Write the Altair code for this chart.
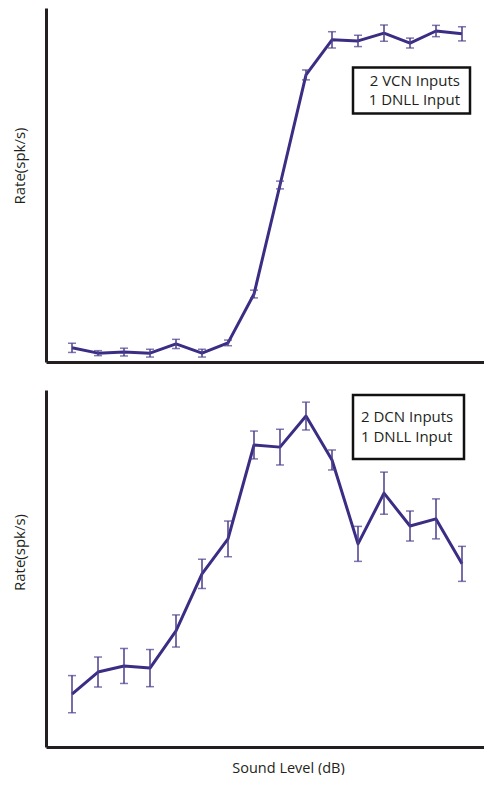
import altair as alt
import pandas as pd

# ---- data (arbitrary rate units 0-100) ----
sound_level = [0, 5, 10, 15, 20, 25, 30, 35, 40, 45, 50, 55, 60, 65, 70, 75]

rate_vcn = [4.0, 2.5, 2.8, 2.5, 5.1, 2.5, 5.4, 19.2, 50.0, 81.1, 91.0, 90.7, 92.9, 90.1, 93.5, 92.7]
err_vcn = [1.3, 0.7, 1.1, 1.1, 1.3, 1.1, 0.8, 1.1, 1.1, 1.4, 2.3, 1.6, 2.3, 1.4, 1.6, 2.0]

rate_dcn = [14.8, 21.0, 22.7, 22.1, 32.5, 48.5, 58.3, 84.6, 84.0, 92.7, 80.4, 56.9, 71.1, 61.9, 63.9, 51.3]
err_dcn = [5.2, 4.2, 4.9, 5.2, 4.5, 4.1, 5.0, 3.9, 5.0, 3.9, 2.8, 4.9, 5.9, 4.2, 5.6, 4.9]

label_vcn = ["2 VCN Inputs", "1 DNLL Input"]
label_dcn = ["2 DCN Inputs", "1 DNLL Input"]

y_title = "Rate(spk/s)"
x_title = "Sound Level (dB)"

# ---- styles ----
LINE = "#3b2d84"
ERR = "#4a3e8c"
INK = "#231f20"
FONT = "Open Sans"
W = 438


def panel(rates, errs, labels, height, box, text_pos, text_align, ytitle_y, show_xtitle):
    df = pd.DataFrame({
        "level": sound_level,
        "rate": rates,
        "lo": [r - e for r, e in zip(rates, errs)],
        "hi": [r + e for r, e in zip(rates, errs)],
    })
    xaxis = alt.Axis(labels=False, ticks=False, grid=False, domainColor=INK,
                     domainWidth=3, title=None)
    if show_xtitle:
        xaxis = alt.Axis(labels=False, ticks=False, grid=False, domainColor=INK,
                         domainWidth=3, title=x_title, titleX=242, titleY=21,
                         titleBaseline="middle", titleFont=FONT, titleFontSize=14.5,
                         titleFontWeight="normal", titleColor=INK)
    x = alt.X("level:Q", scale=alt.Scale(domain=[-5, 79.23], nice=False, zero=False), axis=xaxis)
    y = alt.Y("rate:Q", scale=alt.Scale(domain=[0, 100], nice=False),
              axis=alt.Axis(labels=False, ticks=False, grid=False, domainColor=INK,
                            domainWidth=3, title=y_title, titleX=-27, titleY=ytitle_y,
                            titleAngle=270, titleAlign="center", titleBaseline="middle",
                            titleFont=FONT, titleFontSize=15, titleFontWeight="normal",
                            titleColor=INK))
    base = alt.Chart(df)
    line = base.mark_line(color=LINE, strokeWidth=3, strokeJoin="round").encode(x=x, y=y)
    bars = base.mark_rule(color=ERR, strokeWidth=1.5).encode(
        x="level:Q", y="lo:Q", y2="hi:Q")
    cap_lo = base.mark_tick(color=ERR, orient="horizontal", size=8, thickness=1.5).encode(
        x="level:Q", y="lo:Q")
    cap_hi = base.mark_tick(color=ERR, orient="horizontal", size=8, thickness=1.5).encode(
        x="level:Q", y="hi:Q")

    one = alt.Chart(pd.DataFrame({"k": [0]}))
    rect = one.mark_rect(fill="white", stroke="#111111", strokeWidth=2.5).encode(
        x=alt.value(box[0]), x2=alt.value(box[1]), y=alt.value(box[2]), y2=alt.value(box[3]))
    text = one.mark_text(font=FONT, fontSize=15, color=INK, align=text_align,
                         baseline="alphabetic", lineHeight=19.5).encode(
        x=alt.value(text_pos[0]), y=alt.value(text_pos[1]), text=alt.value(labels))

    return alt.layer(line, bars, cap_lo, cap_hi, rect, text).properties(width=W, height=height)


top = panel(rate_vcn, err_vcn, label_vcn, 354,
            box=(307, 424, 59.5, 105.5), text_pos=(414, 77.5), text_align="right",
            ytitle_y=157.5, show_xtitle=False)
bottom = panel(rate_dcn, err_dcn, label_dcn, 357,
               box=(307, 418, 5, 69), text_pos=(315, 32), text_align="left",
               ytitle_y=162, show_xtitle=True)

chart = alt.vconcat(top, bottom, spacing=28).properties(
    padding={"left": 4, "top": 0, "right": 0, "bottom": 0},
    background="white",
).configure_view(stroke=None)

chart.save("out.html", embed_options={"renderer": "svg", "actions": False})
